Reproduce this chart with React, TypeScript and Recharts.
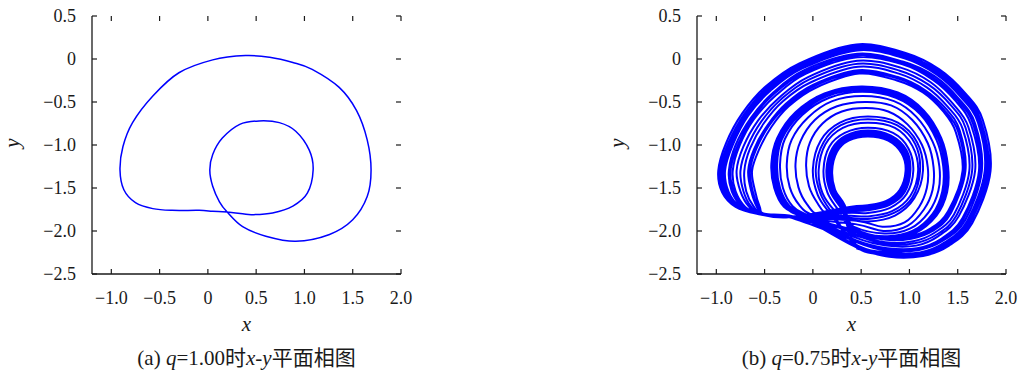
import { Line, LineChart, XAxis, YAxis } from "recharts";

type Pt = [number, number];

const xTicks = [-1, -0.5, 0, 0.5, 1, 1.5, 2];
const yTicks = [0.5, 0, -0.5, -1, -1.5, -2, -2.5];
const xDomain: [number, number] = [-1.2, 2];
const yDomain: [number, number] = [-2.5, 0.5];

// (a) q = 1.00 : period-2 limit cycle, traced inner loop first
const limitCycle: Pt[] = [
  [0.2, -1.78], [0.36, -1.8], [0.46, -1.81], [0.67, -1.79], [0.88, -1.71], [1.03, -1.56],
  [1.09, -1.29], [1.05, -1.06], [0.91, -0.84], [0.74, -0.74], [0.53, -0.72], [0.33, -0.76],
  [0.15, -0.92], [0.05, -1.11], [0.02, -1.29], [0.05, -1.48], [0.12, -1.66], [0.2, -1.78],
  [0.36, -1.95], [0.6, -2.06], [0.91, -2.12], [1.26, -2.04], [1.5, -1.87], [1.65, -1.6],
  [1.69, -1.29], [1.65, -0.94], [1.54, -0.6], [1.36, -0.33], [1.08, -0.12], [0.88, -0.04],
  [0.64, 0.02], [0.39, 0.04], [0.05, -0.01], [-0.3, -0.16], [-0.57, -0.43], [-0.78, -0.74],
  [-0.88, -1.02], [-0.91, -1.29], [-0.87, -1.52], [-0.75, -1.67], [-0.57, -1.74], [-0.37, -1.76],
  [-0.09, -1.76], [0.05, -1.77], [0.2, -1.78],
];

// (b) q = 0.75 : chaotic attractor, read band by band (outer / middle / inner)
const outerLoop1: Pt[] = [
  [0.45, -2.2], [0.79, -2.3], [1.14, -2.29], [1.41, -2.17], [1.65, -1.91], [1.84, -1.3], [1.76, -0.71],
  [1.58, -0.4], [1.31, -0.12], [0.96, 0.07], [0.45, 0.17], [-0.14, -0.05], [-0.49, -0.32], [-0.73, -0.63],
  [-0.9, -0.98], [-0.98, -1.3], [-0.94, -1.55], [-0.8, -1.72], [-0.58, -1.8], [-0.25, -1.84],
];
const outerLoop2: Pt[] = [
  [0.45, -2.19], [0.79, -2.29], [1.13, -2.28], [1.4, -2.16], [1.63, -1.9], [1.82, -1.3], [1.74, -0.72],
  [1.57, -0.41], [1.3, -0.14], [0.95, 0.05], [0.45, 0.15], [-0.13, -0.06], [-0.47, -0.33], [-0.71, -0.64],
  [-0.88, -0.99], [-0.96, -1.3], [-0.92, -1.55], [-0.79, -1.72], [-0.57, -1.8], [-0.25, -1.84],
];
const outerLoop3: Pt[] = [
  [0.45, -2.18], [0.785, -2.28], [1.13, -2.27], [1.39, -2.15], [1.63, -1.9], [1.81, -1.3], [1.735, -0.72],
  [1.56, -0.42], [1.295, -0.145], [0.95, 0.04], [0.45, 0.135], [-0.125, -0.073], [-0.465, -0.34], [-0.7, -0.645],
  [-0.87, -0.99], [-0.95, -1.3], [-0.91, -1.55], [-0.78, -1.72], [-0.57, -1.8], [-0.245, -1.84],
];
const outerLoop4: Pt[] = [
  [0.45, -2.17], [0.78, -2.27], [1.12, -2.26], [1.39, -2.15], [1.62, -1.89], [1.8, -1.3], [1.73, -0.73],
  [1.55, -0.43], [1.29, -0.15], [0.95, 0.03], [0.45, 0.125], [-0.12, -0.08], [-0.46, -0.35], [-0.69, -0.65],
  [-0.86, -0.99], [-0.94, -1.3], [-0.9, -1.55], [-0.77, -1.72], [-0.57, -1.8], [-0.24, -1.84],
];
const outerLoop5: Pt[] = [
  [0.45, -2.165], [0.782, -2.264], [1.119, -2.254], [1.379, -2.138], [1.61, -1.888], [1.793, -1.3], [1.716, -0.732],
  [1.543, -0.433], [1.282, -0.164], [0.945, 0.019], [0.454, 0.112], [-0.114, -0.093], [-0.447, -0.356], [-0.682, -0.655],
  [-0.846, -0.992], [-0.923, -1.3], [-0.886, -1.547], [-0.76, -1.72], [-0.567, -1.8], [-0.24, -1.84],
];
const outerLoop6: Pt[] = [
  [0.45, -2.16], [0.78, -2.25], [1.11, -2.25], [1.37, -2.13], [1.6, -1.88], [1.78, -1.3], [1.71, -0.74],
  [1.53, -0.44], [1.28, -0.18], [0.94, 0.01], [0.46, 0.1], [-0.11, -0.11], [-0.44, -0.37], [-0.67, -0.66],
  [-0.83, -1.0], [-0.91, -1.3], [-0.87, -1.55], [-0.75, -1.72], [-0.56, -1.8], [-0.24, -1.84],
];
const outerLoop7: Pt[] = [
  [0.45, -2.13], [0.77, -2.23], [1.1, -2.22], [1.35, -2.11], [1.58, -1.87], [1.75, -1.3], [1.68, -0.75],
  [1.51, -0.46], [1.26, -0.2], [0.93, -0.03], [0.46, 0.06], [-0.09, -0.13], [-0.41, -0.39], [-0.64, -0.68],
  [-0.8, -1.0], [-0.87, -1.3], [-0.84, -1.54], [-0.73, -1.72], [-0.56, -1.8], [-0.24, -1.84],
];
const outerLoop8: Pt[] = [
  [0.45, -2.121], [0.771, -2.218], [1.092, -2.209], [1.34, -2.099], [1.56, -1.86], [1.734, -1.3], [1.661, -0.76],
  [1.496, -0.475], [1.248, -0.219], [0.927, -0.044], [0.459, 0.044], [-0.082, -0.151], [-0.399, -0.402], [-0.623, -0.686],
  [-0.779, -1.007], [-0.853, -1.3], [-0.818, -1.543], [-0.71, -1.72], [-0.551, -1.8], [-0.232, -1.836],
];
const outerLoop9: Pt[] = [
  [0.45, -2.11], [0.77, -2.2], [1.08, -2.2], [1.33, -2.09], [1.55, -1.85], [1.72, -1.3], [1.64, -0.77],
  [1.48, -0.49], [1.24, -0.24], [0.92, -0.06], [0.46, 0.02], [-0.07, -0.17], [-0.38, -0.42], [-0.61, -0.7],
  [-0.76, -1.01], [-0.83, -1.3], [-0.8, -1.54], [-0.7, -1.72], [-0.55, -1.8], [-0.23, -1.84],
];
const outerLoop10: Pt[] = [
  [0.45, -2.08], [0.76, -2.17], [1.07, -2.17], [1.3, -2.06], [1.51, -1.83], [1.68, -1.3], [1.61, -0.79],
  [1.45, -0.52], [1.22, -0.27], [0.91, -0.1], [0.46, -0.02], [-0.05, -0.21], [-0.35, -0.45], [-0.57, -0.72],
  [-0.72, -1.02], [-0.79, -1.3], [-0.75, -1.54], [-0.66, -1.72], [-0.54, -1.8], [-0.22, -1.83],
];
const outerLoop11: Pt[] = [
  [0.45, -2.057], [0.756, -2.152], [1.054, -2.143], [1.283, -2.041], [1.487, -1.82], [1.649, -1.3], [1.581, -0.8],
  [1.428, -0.536], [1.198, -0.298], [0.9, -0.136], [0.466, -0.054], [-0.035, -0.236], [-0.329, -0.468], [-0.537, -0.731],
  [-0.682, -1.029], [-0.75, -1.3], [-0.719, -1.537], [-0.637, -1.72], [-0.528, -1.8], [-0.218, -1.834],
];
const outerLoop12: Pt[] = [
  [0.45, -2.04], [0.75, -2.13], [1.04, -2.12], [1.26, -2.02], [1.46, -1.81], [1.62, -1.3], [1.55, -0.81],
  [1.4, -0.56], [1.18, -0.33], [0.89, -0.17], [0.47, -0.09], [-0.02, -0.27], [-0.31, -0.49], [-0.51, -0.75],
  [-0.65, -1.04], [-0.71, -1.3], [-0.69, -1.54], [-0.61, -1.72], [-0.52, -1.8], [-0.21, -1.83],
];
const outerLoop13: Pt[] = [
  [0.45, -2.01], [0.74, -2.1], [1.02, -2.09], [1.24, -2.0], [1.43, -1.79], [1.58, -1.3], [1.52, -0.83],
  [1.38, -0.58], [1.16, -0.36], [0.88, -0.21], [0.47, -0.13], [0.0, -0.3], [-0.28, -0.52], [-0.47, -0.77],
  [-0.61, -1.05], [-0.67, -1.3], [-0.64, -1.53], [-0.58, -1.72], [-0.51, -1.8], [-0.21, -1.83],
];
const outerLoop14: Pt[] = [
  [0.45, -1.995], [0.741, -2.088], [1.016, -2.08], [1.229, -1.986], [1.417, -1.782], [1.567, -1.302], [1.503, -0.838],
  [1.362, -0.594], [1.15, -0.375], [0.874, -0.225], [0.473, -0.149], [0.01, -0.317], [-0.262, -0.532], [-0.454, -0.775],
  [-0.588, -1.051], [-0.651, -1.302], [-0.624, -1.531], [-0.567, -1.72], [-0.505, -1.8], [-0.205, -1.83],
];
const outerLoop15: Pt[] = [
  [0.45, -1.98], [0.74, -2.07], [1.01, -2.06], [1.22, -1.97], [1.4, -1.77], [1.55, -1.3], [1.48, -0.85],
  [1.35, -0.61], [1.14, -0.39], [0.87, -0.25], [0.48, -0.17], [0.02, -0.34], [-0.25, -0.55], [-0.43, -0.79],
  [-0.56, -1.06], [-0.63, -1.3], [-0.6, -1.53], [-0.55, -1.72], [-0.5, -1.8], [-0.2, -1.83],
];

const middleLoop1: Pt[] = [
  [0.4, -2.0], [0.75, -2.1], [1.05, -2.03], [1.28, -1.82], [1.39, -1.55], [1.4, -1.25], [1.33, -0.92],
  [1.15, -0.6], [0.88, -0.39], [0.5, -0.32], [0.12, -0.4], [-0.18, -0.62], [-0.37, -0.92], [-0.43, -1.22],
  [-0.4, -1.5], [-0.3, -1.72], [-0.12, -1.83],
];
const middleLoop2: Pt[] = [
  [0.402, -1.995], [0.749, -2.094], [1.046, -2.025], [1.273, -1.816], [1.382, -1.548], [1.392, -1.25], [1.322, -0.923],
  [1.143, -0.606], [0.876, -0.399], [0.502, -0.33], [0.127, -0.408], [-0.169, -0.625], [-0.356, -0.922], [-0.416, -1.22],
  [-0.386, -1.499], [-0.286, -1.718], [-0.109, -1.829],
];
const middleLoop3: Pt[] = [
  [0.4, -1.99], [0.75, -2.09], [1.04, -2.02], [1.27, -1.81], [1.37, -1.55], [1.38, -1.25], [1.31, -0.93],
  [1.14, -0.61], [0.87, -0.41], [0.5, -0.34], [0.13, -0.42], [-0.16, -0.63], [-0.34, -0.92], [-0.4, -1.22],
  [-0.37, -1.5], [-0.27, -1.72], [-0.1, -1.83],
];
const middleLoop4: Pt[] = [
  [0.406, -1.986], [0.746, -2.082], [1.038, -2.014], [1.258, -1.808], [1.365, -1.544], [1.375, -1.251], [1.306, -0.93],
  [1.13, -0.619], [0.868, -0.416], [0.506, -0.35], [0.142, -0.425], [-0.146, -0.636], [-0.329, -0.926], [-0.387, -1.22],
  [-0.357, -1.498], [-0.258, -1.715], [-0.088, -1.826],
];
const middleLoop5: Pt[] = [
  [0.41, -1.98], [0.75, -2.08], [1.03, -2.01], [1.25, -1.8], [1.36, -1.54], [1.37, -1.25], [1.3, -0.93],
  [1.12, -0.63], [0.86, -0.43], [0.51, -0.36], [0.15, -0.43], [-0.13, -0.64], [-0.32, -0.93], [-0.37, -1.22],
  [-0.34, -1.5], [-0.24, -1.71], [-0.08, -1.82],
];
const middleLoop6: Pt[] = [
  [0.41, -1.97], [0.74, -2.06], [1.03, -2.0], [1.24, -1.8], [1.34, -1.54], [1.35, -1.25], [1.28, -0.94],
  [1.11, -0.64], [0.86, -0.45], [0.51, -0.38], [0.17, -0.45], [-0.11, -0.65], [-0.29, -0.93], [-0.34, -1.22],
  [-0.31, -1.5], [-0.21, -1.71], [-0.05, -1.82],
];
const middleLoop7: Pt[] = [
  [0.42, -1.95], [0.74, -2.03], [1.01, -1.97], [1.2, -1.78], [1.3, -1.53], [1.31, -1.25], [1.24, -0.96],
  [1.07, -0.67], [0.84, -0.49], [0.52, -0.43], [0.2, -0.49], [-0.05, -0.68], [-0.22, -0.94], [-0.27, -1.22],
  [-0.24, -1.49], [-0.14, -1.7], [0.0, -1.82],
];
const middleLoop8: Pt[] = [
  [0.44, -1.92], [0.73, -2.0], [0.98, -1.94], [1.15, -1.75], [1.24, -1.52], [1.25, -1.26], [1.19, -0.98],
  [1.03, -0.71], [0.81, -0.54], [0.54, -0.5], [0.25, -0.55], [0.02, -0.71], [-0.13, -0.96], [-0.18, -1.22],
  [-0.15, -1.49], [-0.06, -1.69], [0.07, -1.81],
];
const middleLoop9: Pt[] = [
  [0.45, -1.88], [0.72, -1.95], [0.95, -1.9], [1.1, -1.72], [1.18, -1.5], [1.19, -1.26], [1.13, -1.0],
  [0.98, -0.76], [0.78, -0.61], [0.55, -0.57], [0.3, -0.61], [0.1, -0.75], [-0.03, -0.97], [-0.07, -1.22],
  [-0.04, -1.48], [0.05, -1.68], [0.15, -1.8],
];

const innerLoop1: Pt[] = [
  [0.3, -1.86], [0.57, -1.89], [0.85, -1.82], [1.05, -1.62], [1.14, -1.3], [1.08, -0.97], [0.88, -0.74],
  [0.57, -0.67], [0.28, -0.74], [0.08, -0.95], [0.0, -1.28], [0.05, -1.58], [0.18, -1.8],
];
const innerLoop2: Pt[] = [
  [0.31, -1.84], [0.57, -1.86], [0.84, -1.79], [1.03, -1.61], [1.11, -1.3], [1.06, -0.99], [0.87, -0.77],
  [0.57, -0.7], [0.29, -0.77], [0.11, -0.97], [0.03, -1.28], [0.08, -1.57], [0.2, -1.79],
];
const innerLoop3: Pt[] = [
  [0.32, -1.82], [0.57, -1.83], [0.82, -1.77], [1.01, -1.59], [1.09, -1.3], [1.03, -1.01], [0.85, -0.8],
  [0.57, -0.74], [0.31, -0.8], [0.13, -0.99], [0.06, -1.29], [0.1, -1.56], [0.23, -1.77],
];
const innerLoop4: Pt[] = [
  [0.34, -1.79], [0.57, -1.79], [0.8, -1.73], [0.97, -1.57], [1.04, -1.3], [0.99, -1.04], [0.83, -0.86],
  [0.57, -0.8], [0.33, -0.86], [0.17, -1.02], [0.11, -1.29], [0.15, -1.55], [0.26, -1.75],
];
const innerLoop5: Pt[] = [
  [0.36, -1.77], [0.57, -1.76], [0.79, -1.7], [0.95, -1.55], [1.01, -1.3], [0.97, -1.06], [0.81, -0.89],
  [0.57, -0.83], [0.34, -0.89], [0.2, -1.04], [0.14, -1.29], [0.18, -1.54], [0.29, -1.73],
];
const innerLoop6: Pt[] = [
  [0.362, -1.755], [0.57, -1.742], [0.78, -1.687], [0.933, -1.542], [1.0, -1.3], [0.955, -1.071], [0.802, -0.904],
  [0.57, -0.849], [0.35, -0.904], [0.213, -1.051], [0.156, -1.296], [0.19, -1.533], [0.297, -1.722],
];
const innerLoop7: Pt[] = [
  [0.37, -1.745], [0.57, -1.73], [0.77, -1.68], [0.92, -1.54], [0.99, -1.3], [0.94, -1.08], [0.8, -0.92],
  [0.57, -0.87], [0.36, -0.92], [0.22, -1.06], [0.17, -1.3], [0.2, -1.53], [0.31, -1.72],
];
const innerLoop8: Pt[] = [
  [0.374, -1.73], [0.57, -1.713], [0.766, -1.662], [0.91, -1.527], [0.973, -1.3], [0.931, -1.091], [0.787, -0.935],
  [0.57, -0.884], [0.364, -0.935], [0.238, -1.071], [0.186, -1.299], [0.217, -1.524], [0.32, -1.707],
];
const innerLoop9: Pt[] = [
  [0.38, -1.72], [0.57, -1.7], [0.76, -1.65], [0.9, -1.52], [0.96, -1.3], [0.92, -1.1], [0.78, -0.95],
  [0.57, -0.9], [0.37, -0.95], [0.25, -1.08], [0.2, -1.3], [0.23, -1.52], [0.33, -1.7],
];

// order in which the trajectory visits the loops
const attractorLoops: Pt[][] = [
  outerLoop1, innerLoop4, middleLoop5, outerLoop9, innerLoop1, outerLoop4, middleLoop8, innerLoop7,
  outerLoop13, middleLoop1, outerLoop2, innerLoop9, middleLoop6, outerLoop10, innerLoop2, outerLoop6,
  middleLoop9, innerLoop5, outerLoop15, middleLoop3, outerLoop7, innerLoop3, middleLoop7, outerLoop12,
  innerLoop6, outerLoop3, middleLoop2, outerLoop14, innerLoop8, middleLoop4, outerLoop5, outerLoop8,
  outerLoop11,
];

const toRows = (pts: Pt[]) => pts.map(([x, y]) => ({ x, y }));
const cycleRows = toRows(limitCycle);
const attractorRows = toRows(attractorLoops.flat());

// smooth curve through every point (Catmull-Rom as cubic Béziers)
const catmullRom = (context: any) => {
  let pts: number[][] = [];
  return {
    areaStart() {},
    areaEnd() {},
    lineStart() {
      pts = [];
    },
    point(x: number, y: number) {
      pts.push([+x, +y]);
    },
    lineEnd() {
      const n = pts.length;
      if (!n) return;
      context.moveTo(pts[0][0], pts[0][1]);
      for (let i = 0; i < n - 1; i++) {
        const p0 = pts[Math.max(i - 1, 0)];
        const p1 = pts[i];
        const p2 = pts[i + 1];
        const p3 = pts[Math.min(i + 2, n - 1)];
        context.bezierCurveTo(
          p1[0] + (p2[0] - p0[0]) / 6,
          p1[1] + (p2[1] - p0[1]) / 6,
          p2[0] - (p3[0] - p1[0]) / 6,
          p2[1] - (p3[1] - p1[1]) / 6,
          p2[0],
          p2[1],
        );
      }
    },
  };
};

const CHART_W = 415;
const CHART_H = 314;
const PLOT_TOP = 16;
const PLOT_LEFT = 92;
const PLOT_W = 309;
const PLOT_H = 258;
const PLOT_BOTTOM = PLOT_TOP + PLOT_H;
const PLOT_RIGHT = PLOT_LEFT + PLOT_W;
const TICK = 5;
const serif = "'Liberation Serif', 'DejaVu Serif', 'Times New Roman', serif";
const ink = "#1a1a1a";

const fmt = (v: number) => (v === 0 ? "0" : v.toFixed(1).replace("-", "\u2212"));

function XTick(props: any) {
  const { x, payload } = props;
  return (
    <g>
      <line x1={x} x2={x} y1={PLOT_BOTTOM} y2={PLOT_BOTTOM - TICK} stroke={ink} strokeWidth={1.2} />
      <line x1={x} x2={x} y1={PLOT_TOP} y2={PLOT_TOP + TICK} stroke={ink} strokeWidth={1.2} />
      <text x={x} y={PLOT_BOTTOM + 30} textAnchor="middle" fontFamily={serif} fontSize={18} fill={ink}>
        {fmt(payload.value)}
      </text>
    </g>
  );
}

function YTick(props: any) {
  const { y, payload } = props;
  return (
    <g>
      <line x1={PLOT_LEFT} x2={PLOT_LEFT + TICK} y1={y} y2={y} stroke={ink} strokeWidth={1.2} />
      <line x1={PLOT_RIGHT} x2={PLOT_RIGHT - TICK} y1={y} y2={y} stroke={ink} strokeWidth={1.2} />
      <text x={PLOT_LEFT - 16} y={y + 6} textAnchor="end" fontFamily={serif} fontSize={18} fill={ink}>
        {fmt(payload.value)}
      </text>
    </g>
  );
}

function Caption({ tag, q }: { tag: string; q: string }) {
  return (
    <div
      style={{
        position: "absolute",
        left: PLOT_LEFT - 100,
        width: PLOT_W + 200,
        top: 346,
        textAlign: "center",
        fontFamily: "'Liberation Serif', 'DejaVu Serif', 'Noto Sans CJK SC', serif",
        fontSize: 21,
        lineHeight: "24px",
        color: ink,
        whiteSpace: "nowrap",
      }}
    >
      ({tag}) <i>q</i>={q}时<i>x</i>-<i>y</i>平面相图
    </div>
  );
}

function PhasePanel({
  rows,
  left,
  tag,
  q,
  width,
}: {
  rows: { x: number; y: number }[];
  left: number;
  tag: string;
  q: string;
  width: number;
}) {
  const frame = { stroke: ink, strokeWidth: 1.3 };
  return (
    <div style={{ position: "absolute", left, top: 0, width: CHART_W, height: 374 }}>
      <LineChart
        width={CHART_W}
        height={CHART_H}
        data={rows}
        margin={{ top: PLOT_TOP, right: CHART_W - PLOT_RIGHT, left: 12, bottom: 0 }}
      >
        <XAxis
          type="number"
          dataKey="x"
          domain={xDomain}
          ticks={xTicks}
          interval={0}
          height={40}
          axisLine={frame}
          tickLine={false}
          tick={XTick}
          allowDataOverflow
        />
        <XAxis xAxisId="top" orientation="top" type="number" domain={xDomain} height={0} axisLine={frame} tickLine={false} tick={false} />
        <YAxis
          type="number"
          domain={yDomain}
          ticks={yTicks}
          interval={0}
          width={80}
          axisLine={frame}
          tickLine={false}
          tick={YTick}
          allowDataOverflow
        />
        <YAxis yAxisId="right" orientation="right" type="number" domain={yDomain} width={0} axisLine={frame} tickLine={false} tick={false} />
        <Line
          type={catmullRom as any}
          dataKey="y"
          stroke="#0000ff"
          strokeWidth={width}
          strokeLinejoin="round"
          dot={false}
          activeDot={false}
          isAnimationActive={false}
        />
      </LineChart>
      <div
        style={{
          position: "absolute",
          left: 2,
          top: 133,
          width: 20,
          height: 20,
          lineHeight: "20px",
          textAlign: "center",
          fontFamily: serif,
          fontStyle: "italic",
          fontSize: 21,
          color: ink,
          transform: "rotate(-90deg)",
        }}
      >
        y
      </div>
      <div
        style={{
          position: "absolute",
          left: PLOT_LEFT + PLOT_W / 2 - 20,
          top: 312,
          width: 40,
          textAlign: "center",
          fontFamily: serif,
          fontStyle: "italic",
          fontSize: 21,
          lineHeight: "24px",
          color: ink,
        }}
      >
        x
      </div>
      <Caption tag={tag} q={q} />
    </div>
  );
}

export default function App() {
  return (
    <div style={{ position: "relative", width: 1023, height: 374, background: "#fff", overflow: "hidden" }}>
      <style>{"body{margin:0}"}</style>
      <PhasePanel rows={cycleRows} left={0} tag="a" q="1.00" width={1.5} />
      <PhasePanel rows={attractorRows} left={605} tag="b" q="0.75" width={2} />
    </div>
  );
}
